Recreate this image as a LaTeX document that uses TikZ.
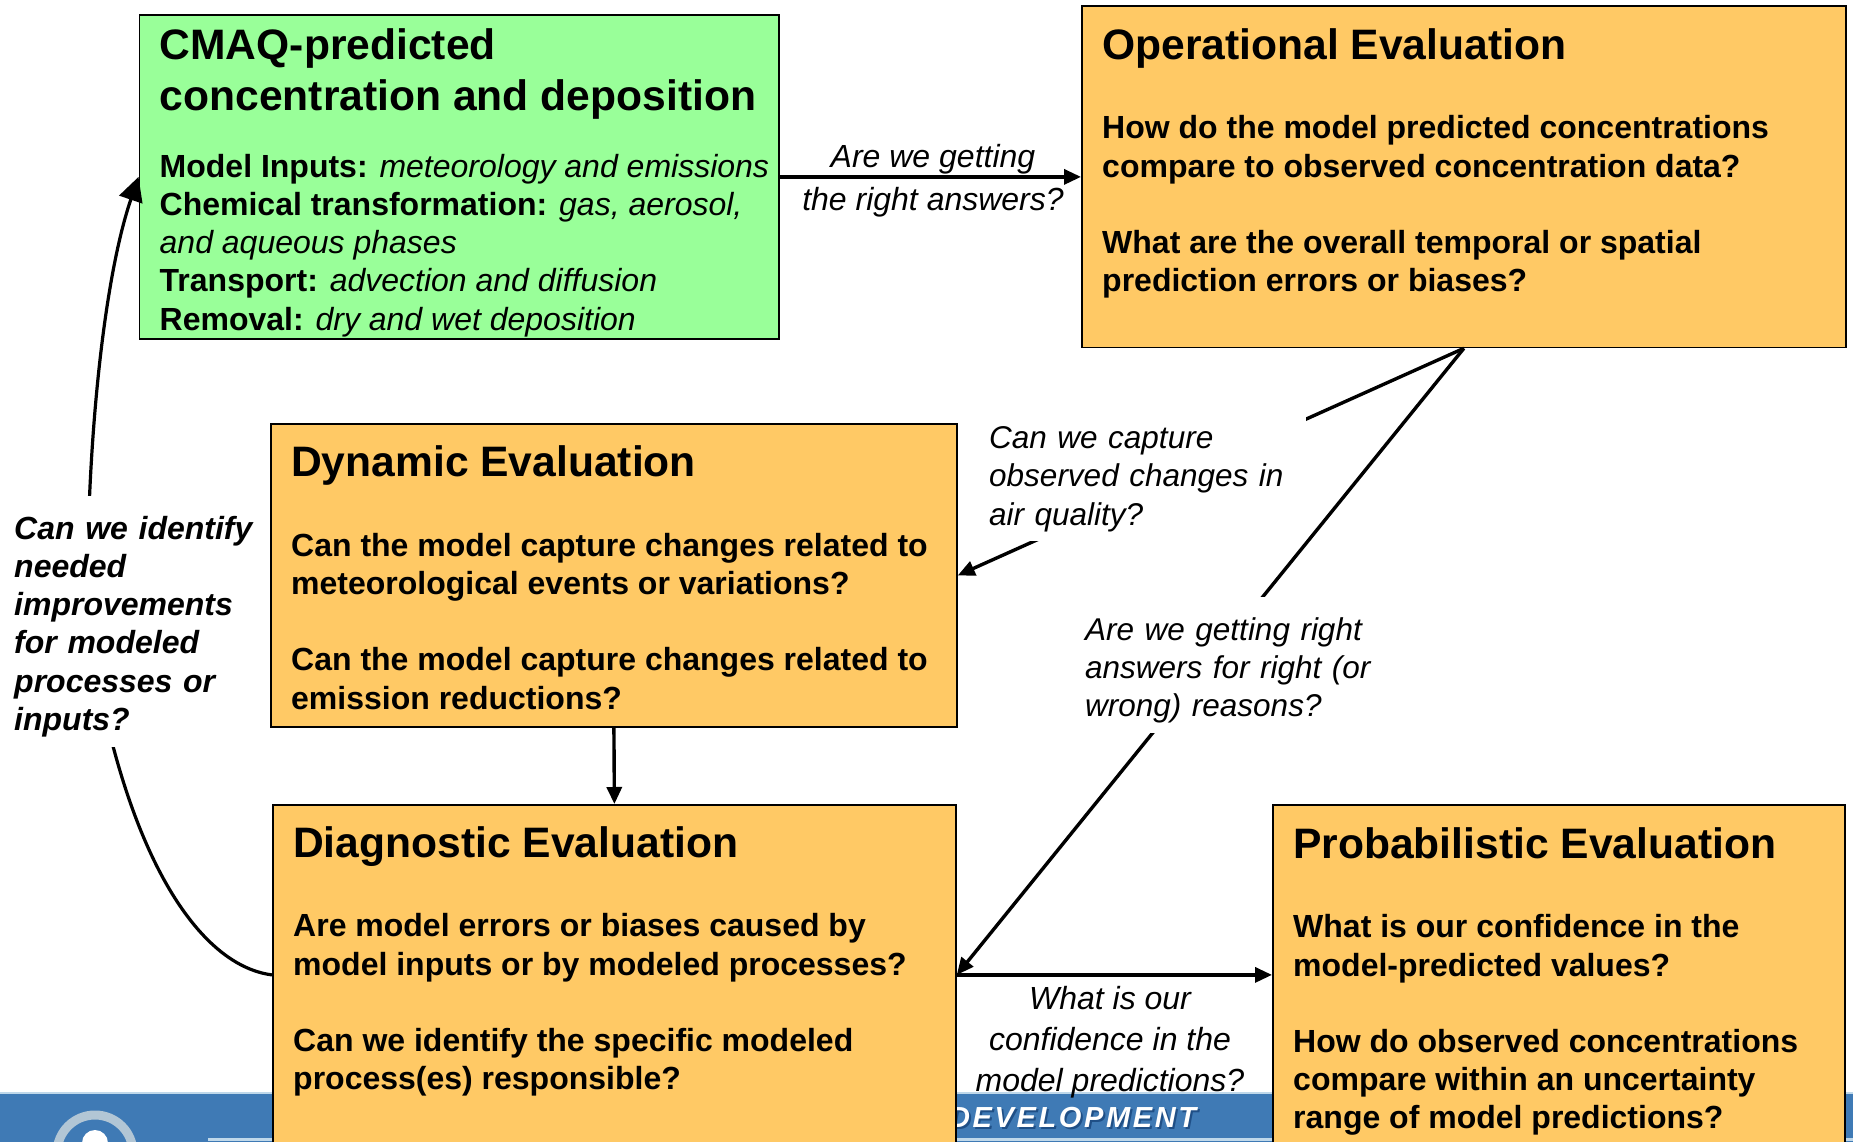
\documentclass[tikz,border=0pt]{standalone}
\usepackage{fontspec}
\setmainfont{Liberation Sans}
\newfontfamily\bannerfont[LetterSpace=9]{Liberation Sans}
\usetikzlibrary{arrows.meta}
\definecolor{boxorange}{HTML}{FFC965}
\definecolor{boxgreen}{HTML}{99FF99}
\definecolor{bannerblue}{HTML}{3F7AB5}
\definecolor{bannerdark}{HTML}{1F4F86}
\definecolor{bannerlight}{HTML}{BFD8EA}
\newcommand{\fb}{\fontsize{32}{38.2}\selectfont}
\newcommand{\fa}{\fontsize{31.5}{38.4}\selectfont}
\newcommand{\fh}{\fontsize{42.6}{51}\selectfont\bfseries}
\tikzset{
  x=1pt,y=-1pt,
  panel/.style={draw=black,line width=1.8pt,fill=boxorange,anchor=north west,inner sep=0pt},
  head/.style={anchor=north west,inner sep=0pt,align=left,font=\fh},
  body/.style={anchor=north west,inner sep=0pt,align=left,font=\fb\bfseries},
  ask/.style={inner sep=0pt,align=left,font=\fa\itshape},
  link/.style={line width=3.4pt,draw=black,-{Triangle[length=17pt,width=15pt]}},
  linkbig/.style={line width=3.2pt,draw=black,-{Triangle[length=24pt,width=24pt]}},
}
\begin{document}
\begin{tikzpicture}
\useasboundingbox (0,0) rectangle (1853,1142);
\fill[white] (0,0) rectangle (1853,1142);
% banner
\fill[bannerblue] (0,1093) rectangle (1853,1142);
\fill[bannerlight] (0,1092) rectangle (1853,1094);
\fill[bannerlight] (208,1138) rectangle (1853,1140.5);
\draw[line width=9pt,draw=bannerlight!80!gray,fill=bannerblue] (95,1153) circle[radius=38];
\fill[white] (95,1143) circle[radius=13];
\node[anchor=base west,inner sep=0pt,text=bannerdark,font=\fontsize{29}{29}\selectfont\bfseries\itshape\bannerfont] (bannershade) at (951,1129) {DEVELOPMENT};
\node[anchor=base west,inner sep=0pt,text=white,font=\fontsize{29}{29}\selectfont\bfseries\itshape\bannerfont] (bannertext) at (949,1127) {DEVELOPMENT};
% boxes
\node[panel,fill=boxgreen,minimum width=639.5pt,minimum height=324pt] (green) at (138.5,14) {};
\node[panel,minimum width=764pt,minimum height=341pt] (oper) at (1081,5.5) {};
\node[panel,minimum width=686pt,minimum height=303pt] (dyn) at (270,423) {};
\node[panel,minimum width=683pt,minimum height=340pt] (diag) at (272,804) {};
\node[panel,minimum width=572pt,minimum height=340pt] (prob) at (1272,804) {};
% connectors
\coordinate (via) at (88,620);
\draw[linkbig] (diag.west) .. controls (195,965) and (120,845) .. (via) .. controls (85,480) and (100,290) .. (green.west);
\draw[link] (green.east) -- (oper.west);
\draw[link] (oper.south) -- (dyn.east);
\draw[link] (oper.south) -- (diag.east);
\draw[link] (dyn.south) -- (diag.north);
\draw[link] (diag.east) -- (prob.west);
% green text
\node[head] (greenhead) at (159.5,28) {CMAQ-predicted\\concentration and deposition};
\node[body,font=\fb] (greenbody) at (159.5,154) {\textbf{Model Inputs:} \textit{meteorology and emissions}\\
\textbf{Chemical transformation:} \textit{gas, aerosol,}\\
\textit{and aqueous phases}\\
\textbf{Transport:} \textit{advection and diffusion}\\
\textbf{Removal:} \textit{dry and wet deposition}};
% operational
\node[head] (operhead) at (1102,28) {Operational Evaluation};
\node[body] (operbody) at (1102,115.5) {How do the model predicted concentrations\\compare to observed concentration data?\\ \mbox{}\\What are the overall temporal or spatial\\prediction errors or biases?};
% dynamic
\node[head] (dynhead) at (291,445) {Dynamic Evaluation};
\node[body] (dynbody) at (291,533) {Can the model capture changes related to\\meteorological events or variations?\\ \mbox{}\\Can the model capture changes related to\\emission reductions?};
% diagnostic
\node[head] (diaghead) at (293,826) {Diagnostic Evaluation};
\node[body] (diagbody) at (293,913.5) {Are model errors or biases caused by\\model inputs or by modeled processes?\\ \mbox{}\\Can we identify the specific modeled\\process(es) responsible?};
% probabilistic
\node[head] (probhead) at (1293,827) {Probabilistic Evaluation};
\node[body] (probbody) at (1293,914.5) {What is our confidence in the\\model-predicted values?\\ \mbox{}\\How do observed concentrations\\compare within an uncertainty\\range of model predictions?};
% labels
\node[ask,font=\fontsize{32}{43}\selectfont\itshape,align=center] (asktop) at (933,180.5) {Are we getting\\the right answers?};
\node[ask,fill=white,anchor=north west,inner xsep=9pt,minimum height=129pt,text width=308pt] (askdyn) at (980,412) {\rule{0pt}{27pt}Can we capture\\observed changes in\\air quality?};
\node[ask,fill=white,anchor=north west,inner xsep=10pt,minimum height=136pt,text width=300pt] (askdiag) at (1075,597) {\rule{0pt}{33pt}Are we getting right\\answers for right (or\\wrong) reasons?};
\node[ask,font=\fontsize{32}{41}\selectfont\itshape,align=center] (askprob) at (1110,1042) {What is our\\confidence in the\\model predictions?};
\node[ask,fill=white,anchor=north west,inner xsep=14pt,inner ysep=0pt,text width=240pt,minimum height=251pt,font=\fb\bfseries\itshape] (askback) at (0,496) {\rule{0pt}{33pt}Can we identify\\needed\\improvements\\for modeled\\processes or\\inputs?};
\end{tikzpicture}
\end{document}
